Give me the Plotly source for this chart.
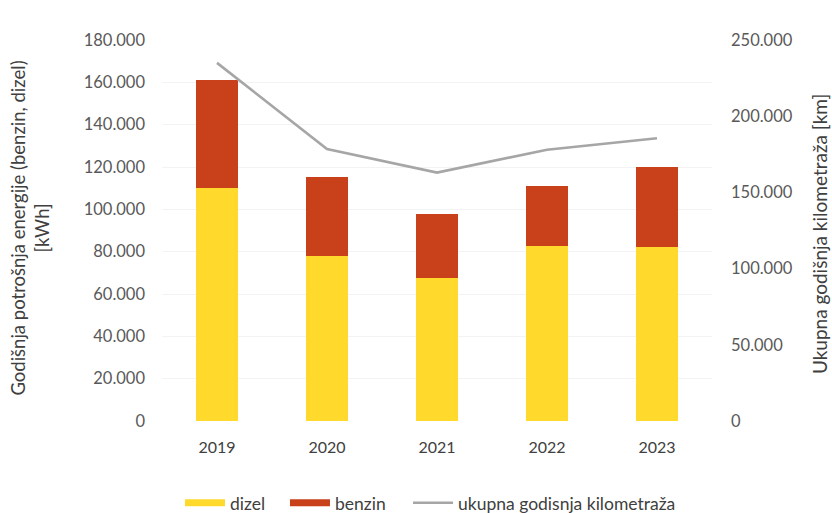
import plotly.graph_objects as go

# Annual energy use by fuel (kWh) and total annual mileage (km)
years = ["2019", "2020", "2021", "2022", "2023"]
dizel_kwh = [110000, 78000, 67500, 82500, 82000]
benzin_kwh = [51000, 37500, 30500, 28500, 38000]
km_total = [235000, 178500, 163000, 178000, 185500]

left_ticks = [0, 20000, 40000, 60000, 80000, 100000, 120000, 140000, 160000, 180000]
right_ticks = [0, 50000, 100000, 150000, 200000, 250000]

DIZEL_COLOR = "#FFD92B"
BENZIN_COLOR = "#C9411B"
KM_COLOR = "#A6A6A6"


def fmt(v):
    return f"{v:,}".replace(",", ".")


FONT = "Lato, 'Open Sans', sans-serif"
TICK_COLOR = "#595959"
LEGEND_FONT = dict(size=17.5, color="#404040")

fig = go.Figure()
fig.add_trace(go.Bar(x=years, y=dizel_kwh, name="dizel", showlegend=False,
                     legendgroup="dizel",
                     marker=dict(color=DIZEL_COLOR, line=dict(width=0))))
fig.add_trace(go.Bar(x=years, y=benzin_kwh, name="benzin", showlegend=False,
                     legendgroup="benzin",
                     marker=dict(color=BENZIN_COLOR, line=dict(width=0))))
fig.add_trace(go.Scatter(x=years, y=km_total, name="ukupna godisnja kilometraža",
                         yaxis="y2", mode="lines", showlegend=False,
                         legendgroup="km",
                         line=dict(color=KM_COLOR, width=2.6)))

# Legend entries drawn as wide flat swatches, one legend box per entry
fig.add_trace(go.Scatter(x=[None], y=[None], mode="lines", name="dizel",
                         legendgroup="dizel", legend="legend",
                         line=dict(color=DIZEL_COLOR, width=7)))
fig.add_trace(go.Scatter(x=[None], y=[None], mode="lines", name="benzin",
                         legendgroup="benzin", legend="legend2",
                         line=dict(color=BENZIN_COLOR, width=7)))
fig.add_trace(go.Scatter(x=[None], y=[None], mode="lines",
                         name="ukupna godisnja kilometraža", legendgroup="km",
                         legend="legend3",
                         line=dict(color=KM_COLOR, width=2.6)))


def legend_box(x):
    return dict(orientation="h", x=x, xanchor="left", y=-0.215,
                yanchor="middle", font=LEGEND_FONT, itemwidth=40,
                bgcolor="rgba(0,0,0,0)")


fig.update_layout(
    width=832, height=513,
    margin=dict(l=162, r=120, t=40, b=92, autoexpand=False),
    paper_bgcolor="white", plot_bgcolor="white",
    barmode="stack", bargap=0.61,
    font=dict(family=FONT, size=16, color=TICK_COLOR),
    xaxis=dict(showline=False, showgrid=False, ticks="",
               tickfont=dict(size=16, color="#404040"), ticklabelstandoff=15),
    yaxis=dict(range=[0, 180000], tickvals=left_ticks,
               ticktext=[fmt(v) for v in left_ticks],
               showgrid=True, gridcolor="#F3F3F3", gridwidth=1,
               zeroline=False, showline=False, ticks="",
               tickfont=dict(size=16.5, color=TICK_COLOR), ticklabelstandoff=16),
    yaxis2=dict(range=[0, 250000], tickvals=right_ticks,
                ticktext=[fmt(v) for v in right_ticks],
                overlaying="y", side="right", showgrid=False,
                zeroline=False, showline=False, ticks="",
                tickfont=dict(size=16.5, color=TICK_COLOR), ticklabelstandoff=18),
    legend=legend_box(0.0327),
    legend2=legend_box(0.2236),
    legend3=legend_box(0.4473),
    showlegend=True,
)

# Axis titles
fig.add_annotation(text="Godišnja potrošnja energije (benzin, dizel)<br>[kWh]",
                   xref="paper", yref="paper", x=-0.24, y=0.505,
                   xanchor="center", yanchor="middle", textangle=-90,
                   showarrow=False, font=dict(size=18.5, color="#404040"))
fig.add_annotation(text="Ukupna godišnja kilometraža [km]",
                   xref="paper", yref="paper", x=1.196, y=0.49,
                   xanchor="center", yanchor="middle", textangle=-90,
                   showarrow=False, font=dict(size=19, color="#404040"))

fig.write_html("out.html")
